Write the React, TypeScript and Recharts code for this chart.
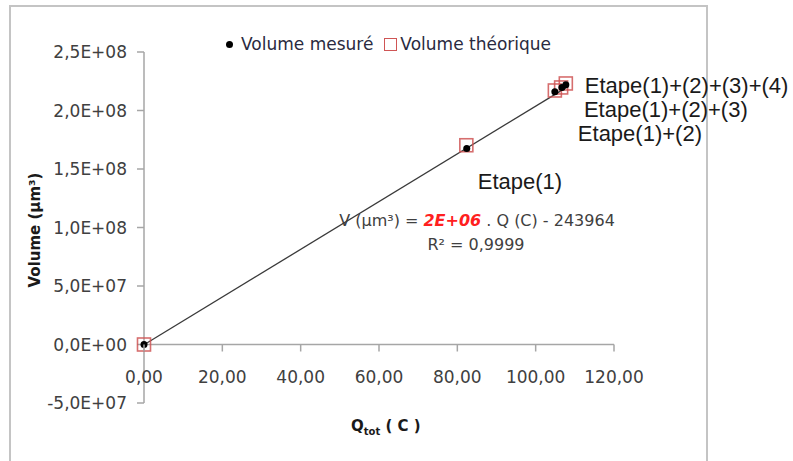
import {
	ScatterChart,
	Scatter,
	XAxis,
	YAxis,
	Legend,
	ReferenceLine,
	Customized,
} from "recharts";

// values
const Q_MESURE = [0, 82.4, 104.9, 106.7, 107.7];
const V_MESURE = [0, 1.675e8, 2.16e8, 2.197e8, 2.22e8];
const Q_THEO = [0, 82.3, 104.9, 106.5, 107.7];
const V_THEO = [0, 1.703e8, 2.171e8, 2.197e8, 2.231e8];
const ETAPES = ["", "Etape(1)", "Etape(1)+(2)", "Etape(1)+(2)+(3)", "Etape(1)+(2)+(3)+(4)"];
const TREND_Q = [0, 108];
const TREND_V = [-243964, 2.2e8];

const X_TICKS = [0, 20, 40, 60, 80, 100, 120];
const Y_TICKS = [-5e7, 0, 5e7, 1e8, 1.5e8, 2e8, 2.5e8];
const Y_MIN = -5e7;
const Y_MAX = 2.5e8;

// label offsets (dx to text start, dy to text middle) per point
const LABEL_DX = [0, 11, 23, 22, 19];
const LABEL_DY = [0, 33, 42, 22, 1];

const W = 793;
const H = 461;
const MARGIN = { top: 52, right: 179, bottom: 0, left: 0 };
const X_AXIS_H = 58;
const PLOT_H = H - MARGIN.top - MARGIN.bottom - X_AXIS_H;
const ZERO_SHIFT = (PLOT_H * (0 - Y_MIN)) / (Y_MAX - Y_MIN);

const FONT = "'DejaVu Sans', sans-serif";
const AXIS_GREY = "#a6a6a6";
const TEXT = "#404040";
const RED = "#cf5555";

const mesure = Q_MESURE.map((q, i) => ({ x: q, y: V_MESURE[i], name: ETAPES[i], i }));
const theo = Q_THEO.map((q, i) => ({ x: q, y: V_THEO[i] }));
const trend = TREND_Q.map((q, i) => ({ x: q, y: TREND_V[i] }));

const fmtY = (v: number) => {
	const [m, e] = v.toExponential(1).split("e");
	const n = Number(e);
	const exp = (n < 0 ? "-" : "+") + String(Math.abs(n)).padStart(2, "0");
	return m.replace(".", ",") + "E" + exp;
};

const fmtX = (v: number) => v.toFixed(2).replace(".", ",");

function XTick(props: any) {
	const { x, y, payload } = props;
	const zeroY = y - ZERO_SHIFT;
	return (
		<g>
			<line x1={x} x2={x} y1={zeroY} y2={zeroY + 7} stroke={AXIS_GREY} strokeWidth={1.5} />
			<text x={x} y={zeroY + 38} textAnchor="middle" fill={TEXT} fontSize={17} fontFamily={FONT}>
				{fmtX(payload.value)}
			</text>
		</g>
	);
}

const Dot = (p: any) => <circle cx={p.cx} cy={p.cy} r={3.5} fill="#000" />;
const Square = (p: any) => (
	<rect
		x={p.cx - 6.5}
		y={p.cy - 6.5}
		width={13}
		height={13}
		fill="none"
		stroke={RED}
		strokeWidth={1.6}
		strokeOpacity={0.85}
	/>
);
const NoShape = () => null;
const EtapeLabel = (p: any) => {
	const i = p.payload.i;
	if (!p.payload.name) return null;
	return (
		<text
			x={p.cx + LABEL_DX[i]}
			y={p.cy + LABEL_DY[i]}
			dominantBaseline="central"
			fontSize={22}
			fontFamily="'Liberation Sans', Arial, sans-serif"
			fill="#1a1a1a"
		>
			{p.payload.name}
		</text>
	);
};

function LegendBox(props: any) {
	const items = (props.payload || []).filter((e: any) => e.type !== "none");
	return (
		<div style={{ display: "flex", alignItems: "center", fontFamily: FONT, fontSize: 17, color: "#2a2a40", lineHeight: "20px", whiteSpace: "nowrap" }}>
			{items.map((e: any, k: number) => (
				<div key={k} style={{ display: "flex", alignItems: "center", marginRight: k === 0 ? 11 : 0 }}>
					{e.value === "Volume mesuré" ? (
						<span style={{ width: 7, height: 7, borderRadius: 4, background: "#000", marginRight: 8 }} />
					) : (
						<span style={{ width: 13, height: 13, boxSizing: "border-box", border: `1.6px solid ${RED}`, marginRight: 3 }} />
					)}
					<span>{e.value}</span>
				</div>
			))}
		</div>
	);
}

function Annotations() {
	return (
		<g fontFamily={FONT}>
			<text x={477} y={220} textAnchor="middle" dominantBaseline="central" fontSize={16} fill={TEXT}>
				V (µm³) ={" "}
				<tspan fill="#ff2020" fontWeight="bold" fontStyle="italic">2E+06</tspan> . Q (C) - 243964
			</text>
			<text x={476} y={244} textAnchor="middle" dominantBaseline="central" fontSize={16} fill={TEXT}>
				R² = 0,9999
			</text>
			<text x={351} y={431} fontSize={15} fontWeight="bold" fill="#1a1a1a">
				Q<tspan fontSize={10} dy={4}>tot</tspan>
				<tspan dy={-4}> ( C )</tspan>
			</text>
			<text
				x={35}
				y={230}
				transform="rotate(-90 35 230)"
				textAnchor="middle"
				dominantBaseline="central"
				fontSize={15}
				fontWeight="bold"
				fill="#1a1a1a"
			>
				Volume (µm³)
			</text>
		</g>
	);
}

export default function App() {
	return (
		<div style={{ position: "absolute", left: 0, top: 0, width: W, height: H, background: "#fff", overflow: "hidden" }}>
			<div
				style={{
					position: "absolute",
					left: 9,
					top: 5,
					width: 699,
					height: 480,
					border: "2px solid #c4c4c4",
					boxSizing: "border-box",
				}}
			/>
			<div style={{ position: "absolute", left: 0, top: 0 }}>
				<ScatterChart width={W} height={H} margin={MARGIN}>
					<XAxis
						type="number"
						dataKey="x"
						domain={[0, 120]}
						ticks={X_TICKS}
						interval={0}
						height={X_AXIS_H}
						axisLine={false}
						tickLine={false}
						tickSize={0}
						tickMargin={0}
						tick={<XTick />}
					/>
					<YAxis
						type="number"
						dataKey="y"
						domain={[Y_MIN, Y_MAX]}
						ticks={Y_TICKS}
						interval={0}
						width={144}
						tickFormatter={fmtY}
						tickSize={7}
						tickMargin={10}
						axisLine={{ stroke: AXIS_GREY, strokeWidth: 1.5 }}
						tickLine={{ stroke: AXIS_GREY, strokeWidth: 1.5 }}
						tick={{ fill: TEXT, fontSize: 17, fontFamily: FONT }}
					/>
					<ReferenceLine y={0} stroke={AXIS_GREY} strokeWidth={1.5} />
					<Legend
						layout="horizontal"
						verticalAlign="middle"
						align="center"
						wrapperStyle={{ top: 34, left: 226, width: "auto", height: 20 }}
						content={<LegendBox />}
					/>
					<Scatter
						name="trend"
						data={trend}
						line={{ stroke: "#3a3a3a", strokeWidth: 1.3 }}
						shape={NoShape}
						legendType="none"
						isAnimationActive={false}
					/>
					<Scatter name="Volume théorique" data={theo} shape={Square} fill={RED} isAnimationActive={false} />
					<Scatter name="Volume mesuré" data={mesure} shape={Dot} fill="#000" isAnimationActive={false} />
					<Scatter name="labels" data={mesure} shape={EtapeLabel} legendType="none" isAnimationActive={false} />
					<Customized component={<Annotations />} />
				</ScatterChart>
			</div>
		</div>
	);
}
